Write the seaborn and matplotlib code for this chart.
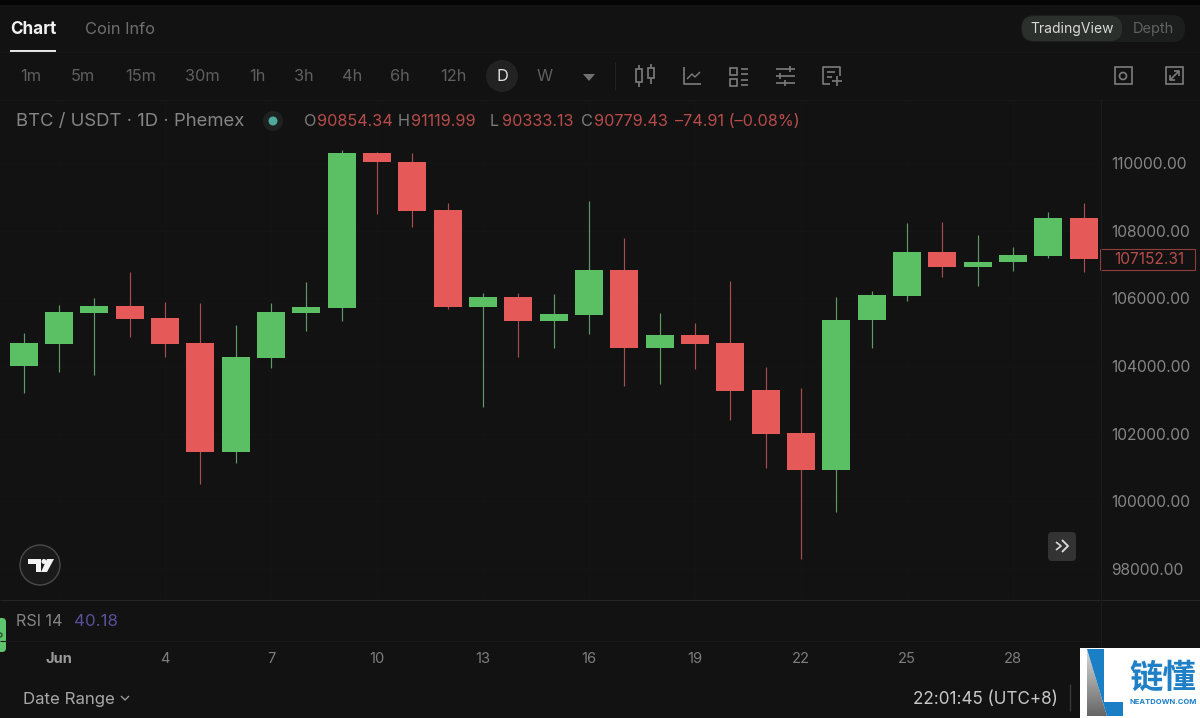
import matplotlib
matplotlib.use('Agg')
import matplotlib.pyplot as plt
from matplotlib.patches import Rectangle, Circle, FancyBboxPatch, Polygon
import numpy as np
import pandas as pd
import seaborn as sns

# daily candles, 31 May (day 0) to 30 Jun
days = list(range(31))
opens = [104000, 104650, 105557, 105782, 105409, 104670, 101448, 104250, 105575, 105705,
         110304, 110038, 108620, 105734, 106039, 105330, 105516, 106837, 104540, 104916,
         104670, 103299, 102010, 100916, 105350, 106077, 107370, 106926, 107065, 107260, 108383]
closes = [104670, 105587, 105782, 105380, 104650, 101448, 104274, 105604, 105734, 110304,
          110020, 108590, 105734, 106039, 105330, 105545, 106837, 104540, 104916, 104641,
          103269, 101980, 100916, 105359, 106089, 107360, 106926, 107082, 107280, 108383, 107152.31]
highs = [104975, 105802, 106009, 106787, 105882, 105853, 105211, 105853, 106491, 110384,
         110330, 110287, 108826, 106148, 106148, 106128, 108886, 107774, 105557, 105261,
         106521, 103979, 103358, 106030, 106225, 108235, 108265, 107872, 107508, 108560, 108809]
lows = [103201, 103822, 103733, 104865, 104274, 100502, 101141, 103931, 105034, 105338,
        108492, 108099, 105684, 102796, 104274, 104540, 104945, 103417, 103458, 103920,
        102403, 100975, 98285, 99675, 104540, 105921, 106639, 106364, 106808, 107183, 106787]

day_ticks = [1, 4, 7, 10, 13, 16, 19, 22, 25, 28]
day_labels = ['Jun', '4', '7', '10', '13', '16', '19', '22', '25', '28']
price_ticks = [98000, 100000, 102000, 104000, 106000, 108000, 110000]
intervals = ['1m', '5m', '15m', '30m', '1h', '3h', '4h', '6h', '12h', 'D', 'W']

BG = '#121212'
GREEN = '#5bc063'
RED = '#e55a58'
GREEN_WICK = '#5f9a66'
RED_WICK = '#a84e4e'
GREY = '#7c7c7c'
TXT_RED = '#b84c4b'

sns.set_theme(style='dark', rc={'figure.facecolor': BG, 'axes.facecolor': BG})
plt.rcParams['font.family'] = ['Inter', 'Noto Sans CJK SC', 'DejaVu Sans']

W, H = 1200, 718
fig = plt.figure(figsize=(W / 100, H / 100), dpi=100)

# main price pane, pixels 0-1101 across and 100-600 down
ax = fig.add_axes([0, 1 - 600 / H, 1101 / W, 500 / H])

df = pd.DataFrame({'day': days, 'open': opens, 'close': closes, 'high': highs, 'low': lows})
df['height'] = (df['close'] - df['open']).abs()
df['bottom'] = df[['open', 'close']].min(axis=1)
df['up'] = df['close'] >= df['open']

for up, body, wick in [(True, GREEN, GREEN_WICK), (False, RED, RED_WICK)]:
    part = df[df['up'] == up]
    ax.vlines(part['day'], part['low'], part['high'], color=wick, lw=0.85, zorder=2)
    sns.barplot(data=part, x='day', y='height', bottom=part['bottom'].values, native_scale=True,
                color=body, saturation=1, width=0.79, linewidth=0, errorbar=None, ax=ax, zorder=3)

ax.set_xlim(-0.67, 30.49)
ax.set_ylim(97082, 111862)
ax.set_xlabel('')
ax.set_ylabel('')
ax.set_xticks(day_ticks)
ax.set_xticklabels(day_labels)
ax.set_yticks(price_ticks)
ax.set_yticklabels(['%.2f' % p for p in price_ticks])
ax.yaxis.tick_right()
ax.tick_params(axis='y', length=0, pad=7.5, labelsize=11.2, labelcolor='#858585')
ax.tick_params(axis='x', length=0, pad=37.5, labelsize=10.6, labelcolor='#7d7d7d')
ax.get_xticklabels()[0].set_fontweight('bold')
ax.get_xticklabels()[0].set_color('#999999')
ax.grid(True, color='#141414', lw=0.8)
ax.set_axisbelow(True)
for s in ax.spines.values():
    s.set_visible(False)

# last price tag
ax.add_patch(Rectangle((1100 / 1101, closes[-1] - 310), 95 / 1101, 620, transform=ax.get_yaxis_transform(),
                       clip_on=False, fc=BG, ec='#8f3d3d', lw=0.8, zorder=6))
ax.text(1149 / 1101, closes[-1], '%.2f' % closes[-1], transform=ax.get_yaxis_transform(),
        ha='center', va='center', fontsize=11.2, color=TXT_RED, zorder=7)

# everything around the chart, in image pixels
ui = fig.add_axes([0, 0, 1, 1], zorder=5)
ui.set_xlim(0, W)
ui.set_ylim(H, 0)
ui.axis('off')
ui.patch.set_alpha(0)


def label(x, y, s, size=10.5, color=GREY, ha='left', **kw):
    ui.text(x, y + 1.5, s, fontsize=size, color=color, ha=ha, va='center', **kw)


def line(xs, ys, color=GREY, lw=1.2):
    ui.plot(xs, ys, color=color, lw=lw, solid_capstyle='butt')


def box(x, y, w, h, color=GREY, lw=1.2, fill='none'):
    ui.add_patch(Rectangle((x, y), w, h, fc=fill, ec=color, lw=lw))


def pill(x, y, w, h, r, color):
    ui.add_patch(FancyBboxPatch((x, y), w, h, boxstyle='round,pad=0,rounding_size=%s' % r,
                                fc=color, ec='none'))


ui.add_patch(Rectangle((0, 0), W, 5, fc='#050505', ec='none'))
line([0, W], [52, 52], '#191919', 0.8)
line([0, W], [100, 100], '#191919', 0.8)
line([0, 1200], [600, 600], '#252525', 0.8)
line([0, 1100], [641, 641], '#181818', 0.8)
line([1101, 1101], [100, 680], '#1b1b1b', 0.8)

# tabs
label(10, 28, 'Chart', 12.3, '#f0f0f0', fontweight='bold')
ui.add_patch(Rectangle((10, 50), 46, 2, fc='#e8e8e8', ec='none'))
label(85, 28, 'Coin Info', 11.8, '#6f6f6f')
pill(1021, 15, 164, 27, 13, '#1b1e1c')
pill(1022, 16, 100, 25, 12, '#2b302d')
label(1072, 28, 'TradingView', 10, '#d8d8d8', ha='center')
label(1153, 28, 'Depth', 10.5, '#616161', ha='center')

# interval row
ui.add_patch(Circle((502, 76), 16, fc='#222222', ec='none'))
interval_x = [31, 83, 141, 202, 257, 304, 352, 400, 453, 502, 545]
for x, s in zip(interval_x, intervals):
    label(x, 75, s, 11.8, '#e0e0e0' if s == 'D' else '#5f5f5f', ha='center')
ui.add_patch(Polygon([(583, 74), (595, 74), (589, 81)], fc='#707070', ec='none'))
line([615, 615], [62, 90], '#222222', 0.8)

# toolbar icons
for x, y0, y1, w0, w1 in [(639, 69, 82, 65, 87), (651, 68, 78, 64, 84)]:
    box(x - 3, y0, 6, y1 - y0)
    line([x, x], [w0, y0])
    line([x, x], [y1, w1])
line([684, 684, 701], [67, 84, 84])
line([687, 692, 695, 700], [79, 74, 77, 72], GREY, 1)
box(730, 68, 7, 7)
box(730, 79, 7, 7)
for y in (69, 74, 80, 85):
    line([741, 748], [y, y])
for y, gap in [(69, 790), (76, 780), (83, 785)]:
    line([776, 795], [y, y])
    line([gap, gap], [y - 3, y + 3])
line([830, 823, 823, 840, 840], [84, 84, 67, 67, 76])
line([827, 835], [72, 72])
line([827, 832], [77, 77])
line([832, 842], [81, 81])
line([837, 837], [76, 86])
box(1115, 67, 17, 17)
ui.add_patch(Circle((1123, 76), 3.5, fc='none', ec=GREY, lw=1.2))
box(1166, 67, 17, 17)
line([1170, 1179], [80, 71])
line([1174, 1179, 1179], [71, 71, 76])
line([1170, 1170, 1175], [75, 80, 80])

# legend row
label(16, 120, 'BTC / USDT · 1D · Phemex', 13.3, '#858585')
ui.add_patch(Circle((273, 121), 10, fc='#1d2120', ec='none'))
ui.add_patch(Circle((273, 121), 4.5, fc='#4fa89a', ec='none'))
for x, s, c in [(304, 'O', GREY), (317, '90854.34', TXT_RED), (398, 'H', GREY), (411, '91119.99', TXT_RED),
                (490, 'L', GREY), (502, '90333.13', TXT_RED), (581, 'C', GREY), (594, '90779.43', TXT_RED),
                (675, '–74.91 (–0.08%)', TXT_RED)]:
    label(x, 120, s, 11.7, c)

# TradingView badge and scroll button
ui.add_patch(Circle((40, 565), 20, fc='#1a1a1a', ec='#4a4a4a', lw=1))
ui.add_patch(Polygon([(28, 559), (41, 559), (41, 572), (36, 572), (36, 564), (28, 564)], fc='#f2f2f2', ec='none'))
ui.add_patch(Circle((44, 561.5), 2.5, fc='#f2f2f2', ec='none'))
ui.add_patch(Polygon([(47, 559), (54, 559), (47, 572), (41, 572)], fc='#f2f2f2', ec='none'))
pill(1048, 532, 28, 29, 4, '#333333')
line([1056, 1061, 1056], [542, 546, 550], '#d8d8d8', 1.2)
line([1062, 1068, 1062], [540, 546, 552], '#d8d8d8', 1.4)

# RSI row and footer
label(16, 620, 'RSI 14', 11.6, '#858585')
label(74, 620, '40.18', 12.2, '#5a4f9c')
pill(-8, 618, 14, 34, 4, '#5fc56c')
ui.add_patch(Circle((0, 635), 2, fc='none', ec='#25502c', lw=1))
label(23, 698, 'Date Range', 12.1, '#a8a8a8')
line([121, 125, 129], [696, 700, 696], '#999999', 1)
label(913, 698, '22:01:45 (UTC+8)', 12.3, '#c8c8c8')
line([1070, 1070], [684, 711], '#3a3a3a', 1)

# site watermark
ui.add_patch(Rectangle((1080, 648), 120, 70, fc='white', ec='none', zorder=6))
tri = Polygon([(1087, 649), (1107, 716), (1087, 716)], fc='none', ec='none', zorder=7)
ui.add_patch(tri)
grad = ui.imshow(np.linspace(0.85, 0.4, 64).reshape(-1, 1), cmap='gray', vmin=0, vmax=1, aspect='auto',
                 extent=(1087, 1107, 716, 649), zorder=7)
grad.set_clip_path(tri)
ui.set_xlim(0, W)
ui.set_ylim(H, 0)
ui.add_patch(Polygon([(1087, 649), (1104, 649), (1104, 702), (1123, 702), (1123, 716), (1107, 716)],
                     fc='#1b7fc6', ec='none', zorder=7))
ui.text(1162.5, 679, '链懂', fontsize=24, color='#1f80c8', ha='center', va='center',
        fontweight='bold', zorder=7)
ui.text(1163, 702, 'NEATDOWN.COM', fontsize=5.5, color='#1f80c8', ha='center', va='center',
        fontweight='bold', zorder=7)

fig.savefig('out.png', dpi=100, facecolor=BG)
